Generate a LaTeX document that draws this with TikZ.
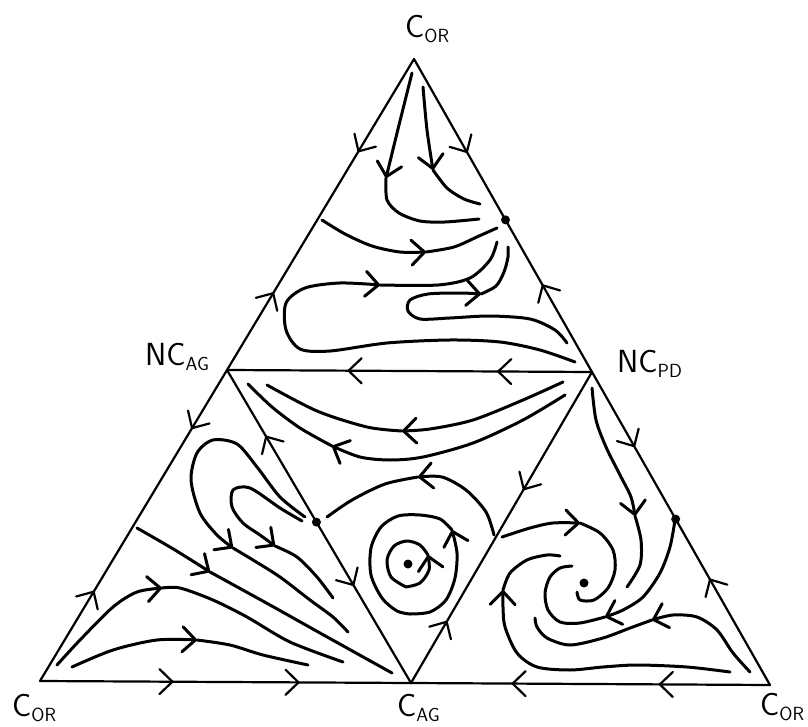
\documentclass[tikz,border=0pt]{standalone}
\usepackage{tikz}
\usetikzlibrary{arrows.meta,decorations.markings,calc}
\newcommand\lsub[1]{\raisebox{-5pt}{\fontsize{19}{20}\selectfont#1}}

\begin{document}
\begin{tikzpicture}[x=1pt,y=-1pt,line cap=round,line join=round,
 fl/.tip={Straight Barb[length=13pt,width=25pt,round]},
 edge/.style={line width=2.2pt,postaction={decorate}},
 flow/.style={line width=3pt},
 lab/.style={font=\fontsize{32}{36}\selectfont\sffamily,anchor=base west,inner sep=0pt}]
\useasboundingbox(0,0)rectangle(808,727);
\coordinate(T)at(414,59);\coordinate(L)at(40,681);\coordinate(R)at(770,685);
\coordinate(A)at(227,370);\coordinate(P)at(592,372);\coordinate(G)at(411,683);
\coordinate(s1)at($(P)!.486!(T)$);\coordinate(s2)at($(A)!.486!(G)$);\coordinate(s3)at($(R)!.53!(P)$);
\coordinate(c1)at(408,564);\coordinate(c2)at(584,583);
\node[lab](lT)at(405,38){C\lsub{OR}};\node[lab](lA)at(145,365){NC\lsub{AG}};\node[lab](lP)at(617,372){NC\lsub{PD}};
\node[lab](lL)at(12,716){C\lsub{OR}};\node[lab](lG)at(397,716){C\lsub{AG}};\node[lab](lR)at(760,715){C\lsub{OR}};
\draw[edge,decoration={markings,mark=at position .3 with{\arrow{fl}},mark=at position .75 with{\arrowreversed{fl}}}](T)--(A);
\draw[edge,decoration={markings,mark=at position .19 with{\arrow{fl}},mark=at position .71 with{\arrowreversed{fl}}}](A)--(L);
\draw[edge,decoration={markings,mark=at position .36 with{\arrow{fl}},mark=at position .7 with{\arrow{fl}}}](L)--(G);
\draw[edge,decoration={markings,mark=at position .28 with{\arrowreversed{fl}},mark=at position .69 with{\arrowreversed{fl}}}](G)--(R);
\draw[edge,decoration={markings,mark=at position .34 with{\arrow{fl}},mark=at position .76 with{\arrowreversed{fl}}}](R)--(P);
\draw[edge,decoration={markings,mark=at position .28 with{\arrow{fl}},mark=at position .7 with{\arrowreversed{fl}}}](P)--(T);
\draw[edge,decoration={markings,mark=at position .26 with{\arrow{fl}},mark=at position .67 with{\arrow{fl}}}](P)--(A);
\draw[edge,decoration={markings,mark=at position .21 with{\arrowreversed{fl}},mark=at position .69 with{\arrow{fl}}}](A)--(G);
\draw[edge,decoration={markings,mark=at position .2 with{\arrow{fl}},mark=at position .62 with{\arrowreversed{fl}}}](G)--(P);
\foreach\d in{s1,s2,s3,c1,c2}{\fill(\d)circle(4.5pt);}
\draw[flow,-fl]plot[smooth]coordinates{(412,73)(399,125)(386,178)};
\draw[flow]plot[smooth]coordinates{(386,178)(387,200)(399,213)(420,221)(445,222)(479,219)};
\draw[flow,-fl]plot[smooth]coordinates{(423,87)(427,130)(433,170)};
\draw[flow]plot[smooth]coordinates{(433,170)(447,188)(464,199)(480,204)};
\draw[flow,-fl]plot[smooth]coordinates{(322,220)(345,234)(372,246)(400,252)(426,252)};
\draw[flow]plot[smooth]coordinates{(426,252)(454,247)(479,236)(497,228)};
\draw[flow,-fl]plot[smooth]coordinates{(575,362)(540,350)(500,342)(450,340)(387,343)(330,351)(300,349)(286,330)(286,303)(305,288)(340,283)(380,285)};
\draw[flow]plot[smooth]coordinates{(380,285)(438,285)(470,278)(490,260)(497,242)};
\draw[flow,-fl]plot[smooth]coordinates{(567,343)(555,330)(530,319)(490,316)(450,318)(420,319)(408,311)(410,300)(428,294)(460,293)(481,294)};
\draw[flow]plot[smooth]coordinates{(481,294)(496,286)(504,272)(508,257)(508,247)};
\draw[flow,-fl]plot[smooth]coordinates{(563,382)(523,400)(473,420)(430,429)(402,431)};
\draw[flow]plot[smooth]coordinates{(402,431)(367,427)(317,411)(267,385)};
\draw[flow,-fl]plot[smooth]coordinates{(565,395)(523,420)(473,443)(423,457)(390,460)(360,457)(332,446)};
\draw[flow]plot[smooth]coordinates{(332,446)(300,428)(272,407)(248,384)};
\draw[flow,-fl]plot[smooth]coordinates{(494,535)(486,512)(466,490)(442,477)(418,477)};
\draw[flow]plot[smooth]coordinates{(418,477)(385,484)(352,500)(327,517)};
\draw[flow,-fl]plot[smooth]coordinates{(410,614)(430,612)(446,600)(455,578)(457,553)(452,530)};
\draw[flow]plot[smooth]coordinates{(452,530)(440,519)(420,515)(398,516)(381,527)(371,548)(371,575)(382,598)(397,611)(410,614)};
\draw[flow,-fl]plot[smooth]coordinates{(406,587)(420,583)(429,570)(428,555)};
\draw[flow]plot[smooth]coordinates{(428,555)(420,545)(407,541)(394,546)(387,560)(391,577)(406,587)};
\draw[flow,-fl]plot[smooth]coordinates{(305,517)(280,497)(257,467)(237,444)(213,440)(197,453)(191,480)(200,513)(217,535)(233,548)};
\draw[flow]plot[smooth]coordinates{(233,548)(253,560)(280,577)(310,600)(333,617)(348,632)};
\draw[flow,-fl]plot[smooth]coordinates{(302,521)(280,508)(250,488)(233,490)(232,507)(243,523)(260,535)(275,546)};
\draw[flow]plot[smooth]coordinates{(275,546)(297,557)(317,577)(333,598)};
\draw[flow,-fl]plot[smooth]coordinates{(137,528)(175,550)(210,572)};
\draw[flow]plot[smooth]coordinates{(210,572)(270,605)(320,633)(392,673)};
\draw[flow,-fl]plot[smooth]coordinates{(57,665)(80,640)(113,607)(137,592)(162,588)};
\draw[flow]plot[smooth]coordinates{(162,588)(180,588)(213,600)(247,617)(290,642)(343,662)};
\draw[flow,-fl]plot[smooth]coordinates{(72,667)(113,650)(157,640)(197,640)};
\draw[flow]plot[smooth]coordinates{(197,640)(230,645)(263,655)(308,665)};
\draw[flow,-fl]plot[smooth]coordinates{(592,388)(596,420)(606,447)(620,475)(631,497)(635,516)};
\draw[flow]plot[smooth]coordinates{(635,516)(641,540)(640,565)(627,587)};
\draw[flow,-fl]plot[smooth]coordinates{(675,520)(670,547)(660,573)(643,597)(623,610)(605,617)};
\draw[flow]plot[smooth]coordinates{(605,617)(580,623)(560,622)(548,610)(545,593)(550,577)(560,568)(572,566)};
\draw[flow,-fl]plot[smooth]coordinates{(502,537)(530,528)(553,523)(580,523)};
\draw[flow]plot[smooth]coordinates{(580,523)(600,533)(613,550)(615,570)(608,588)(594,600)(580,600)(577,592)};
\draw[flow,-fl]plot[smooth]coordinates{(730,672)(687,667)(637,665)(603,667)(570,670)(537,667)(517,653)(505,627)(503,607)(503,590)};
\draw[flow]plot[smooth]coordinates{(503,590)(510,573)(527,560)(547,555)(560,556)};
\draw[flow,-fl]plot[smooth]coordinates{(750,672)(733,653)(717,630)(697,617)(673,615)(652,620)};
\draw[flow]plot[smooth]coordinates{(652,620)(630,628)(603,638)(570,645)(547,638)(537,627)(535,618)};
\end{tikzpicture}
\end{document}
